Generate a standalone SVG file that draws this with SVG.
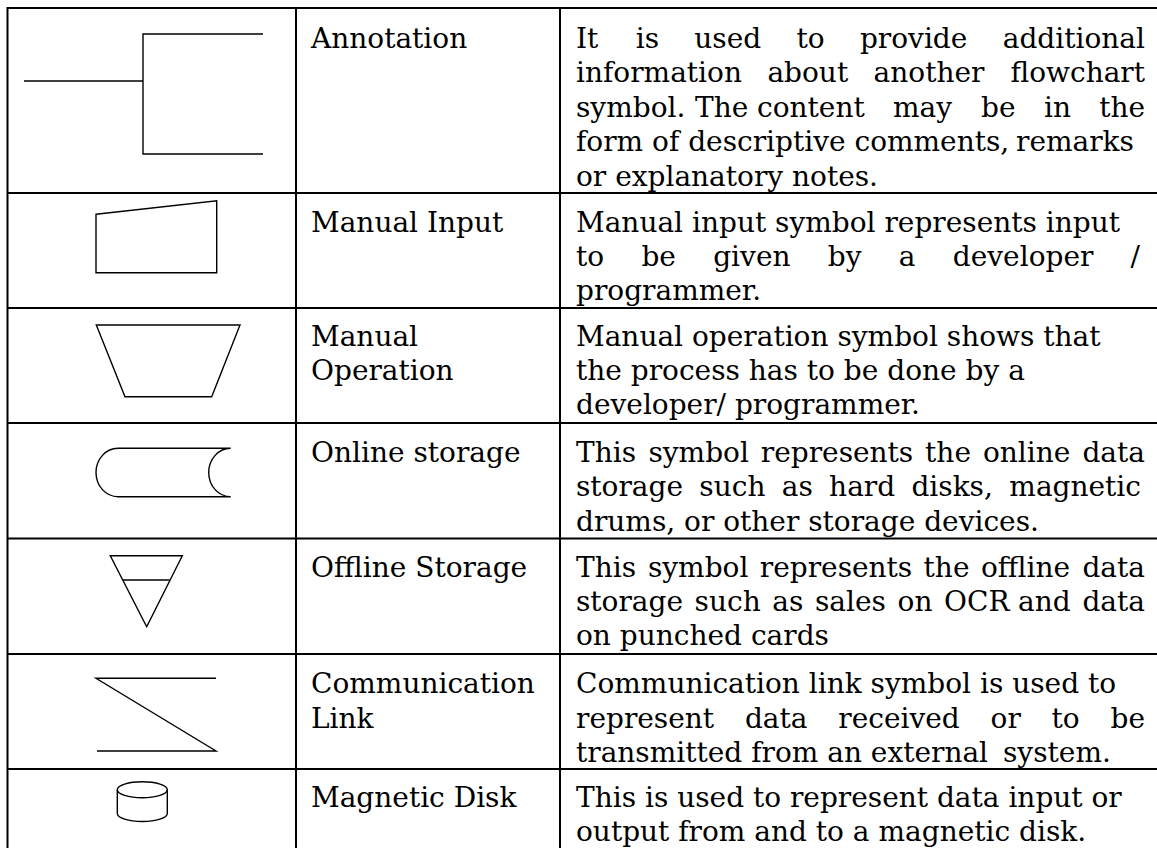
<svg xmlns="http://www.w3.org/2000/svg" width="1157" height="848" viewBox="0 0 1157 848">
  <style>
    .t { font-family: "DejaVu Serif", "Liberation Serif", serif; font-size: 28px; fill: #000; }
    .e { text-anchor: end; }
    .sym { fill: none; stroke: #000; stroke-width: 1.4; stroke-linejoin: miter; }
    .grid { stroke: #000; stroke-width: 2; fill: none; }
  </style>
  <rect width="1157" height="848" fill="#fff"/>

  <!-- table rules -->
  <g id="table-grid" class="grid">
    <line x1="7.5" y1="8" x2="1158" y2="8"/>
    <line x1="7.5" y1="7" x2="7.5" y2="848"/>
    <line x1="296" y1="7" x2="296" y2="848"/>
    <line x1="560" y1="7" x2="560" y2="848"/>
    <line x1="7.5" y1="193" x2="1158" y2="193"/>
    <line x1="7.5" y1="308" x2="1158" y2="308"/>
    <line x1="7.5" y1="423" x2="1158" y2="423"/>
    <line x1="7.5" y1="538.5" x2="1158" y2="538.5"/>
    <line x1="7.5" y1="654" x2="1158" y2="654"/>
    <line x1="7.5" y1="769" x2="1158" y2="769"/>
  </g>

  <!-- Annotation -->
  <g id="row-annotation">
    <path class="sym" d="M24,81 H143 M263,34 H143 V154 H263"/>
    <text class="t" x="311" y="47.5">Annotation</text>
    <text class="t" y="47.5"><tspan x="576">It</tspan><tspan x="635.7">is</tspan><tspan x="694.3">used</tspan><tspan x="796.5">to</tspan><tspan x="859.9">provide</tspan><tspan x="1145" class="e">additional</tspan></text>
    <text class="t" y="82"><tspan x="576">information</tspan><tspan x="767.4">about</tspan><tspan x="873.6">another</tspan><tspan x="1145" class="e">flowchart</tspan></text>
    <text class="t" y="116.5"><tspan x="576">symbol.</tspan><tspan x="695">The</tspan><tspan x="757">content</tspan><tspan x="893">may</tspan><tspan x="981">be</tspan><tspan x="1044">in</tspan><tspan x="1145" class="e">the</tspan></text>
    <text class="t" y="151"><tspan x="576">form of descriptive comments,</tspan><tspan x="1016">remarks</tspan></text>
    <text class="t" x="576" y="185.5">or explanatory notes.</text>
  </g>

  <!-- Manual Input -->
  <g id="row-manual-input">
    <polygon class="sym" points="96,214.3 216.7,200.7 216.7,272.7 96,272.7"/>
    <text class="t" x="311" y="231.7">Manual Input</text>
    <text class="t" x="576" y="231.7">Manual input symbol represents input</text>
    <text class="t" y="266"><tspan x="576">to</tspan><tspan x="641.4">be</tspan><tspan x="713.2">given</tspan><tspan x="827.8">by</tspan><tspan x="898.8">a</tspan><tspan x="952.8">developer</tspan><tspan x="1140" class="e">/</tspan></text>
    <text class="t" x="576" y="300.3">programmer.</text>
  </g>

  <!-- Manual Operation -->
  <g id="row-manual-operation">
    <polygon class="sym" points="96.3,325 240,325 211.7,396.7 125,396.7"/>
    <text class="t" x="311" y="345.7">Manual</text>
    <text class="t" x="311" y="380">Operation</text>
    <text class="t" x="576" y="345.7">Manual operation symbol shows that</text>
    <text class="t" x="576" y="380">the process has to be done by a</text>
    <text class="t" x="576" y="414.3">developer/ programmer.</text>
  </g>

  <!-- Online storage -->
  <g id="row-online-storage">
    <path class="sym" d="M230.7,448.3 H118 A22,24.2 0 0 0 118,496.7 H230.7 M230.7,448.3 A22,24.2 0 0 0 230.7,496.7"/>
    <text class="t" x="311" y="462">Online storage</text>
    <text class="t" y="462"><tspan x="576">This</tspan><tspan x="648.4">symbol</tspan><tspan x="760.8">represents</tspan><tspan x="925.1">the</tspan><tspan x="982.9">online</tspan><tspan x="1145" class="e">data</tspan></text>
    <text class="t" y="496.3"><tspan x="576">storage</tspan><tspan x="699.3">such</tspan><tspan x="781.7">as</tspan><tspan x="829.1">hard</tspan><tspan x="911.4">disks,</tspan><tspan x="1141" class="e">magnetic</tspan></text>
    <text class="t" x="576" y="530.6">drums, or other storage devices.</text>
  </g>

  <!-- Offline Storage -->
  <g id="row-offline-storage">
    <polygon class="sym" points="110.3,555.7 182.3,555.7 146.7,626.7"/>
    <line class="sym" x1="122.8" y1="580" x2="169.8" y2="580"/>
    <text class="t" x="311" y="576.7">Offline Storage</text>
    <text class="t" y="576.7"><tspan x="576">This</tspan><tspan x="647.9">symbol</tspan><tspan x="759.8">represents</tspan><tspan x="923.6">the</tspan><tspan x="980.9">offline</tspan><tspan x="1145" class="e">data</tspan></text>
    <text class="t" y="611"><tspan x="576">storage</tspan><tspan x="694.6">such</tspan><tspan x="772.3">as</tspan><tspan x="815">sales</tspan><tspan x="897.6">on</tspan><tspan x="944.1">OCR</tspan><tspan x="1018">and</tspan><tspan x="1145" class="e">data</tspan></text>
    <text class="t" x="576" y="645.3">on punched cards</text>
  </g>

  <!-- Communication Link -->
  <g id="row-communication-link">
    <path class="sym" d="M216,678.3 H96 L216,751 H97"/>
    <text class="t" x="311" y="693.3">Communication</text>
    <text class="t" x="311" y="727.6">Link</text>
    <text class="t" x="576" y="693.3">Communication link symbol is used to</text>
    <text class="t" y="727.6"><tspan x="576">represent</tspan><tspan x="744.9">data</tspan><tspan x="838.3">received</tspan><tspan x="990.6">or</tspan><tspan x="1051.6">to</tspan><tspan x="1145" class="e">be</tspan></text>
    <text class="t" y="762"><tspan x="576">transmitted from an external</tspan><tspan x="1003">system.</tspan></text>
  </g>

  <!-- Magnetic Disk -->
  <g id="row-magnetic-disk">
    <ellipse class="sym" cx="142.3" cy="789.7" rx="25" ry="8"/>
    <path class="sym" d="M117.3,789.7 V813.5 A25,8 0 0 0 167.3,813.5 V789.7"/>
    <text class="t" x="311" y="807">Magnetic Disk</text>
    <text class="t" x="576" y="807">This is used to represent data input or</text>
    <text class="t" x="576" y="841.3">output from and to a magnetic disk.</text>
  </g>
</svg>
